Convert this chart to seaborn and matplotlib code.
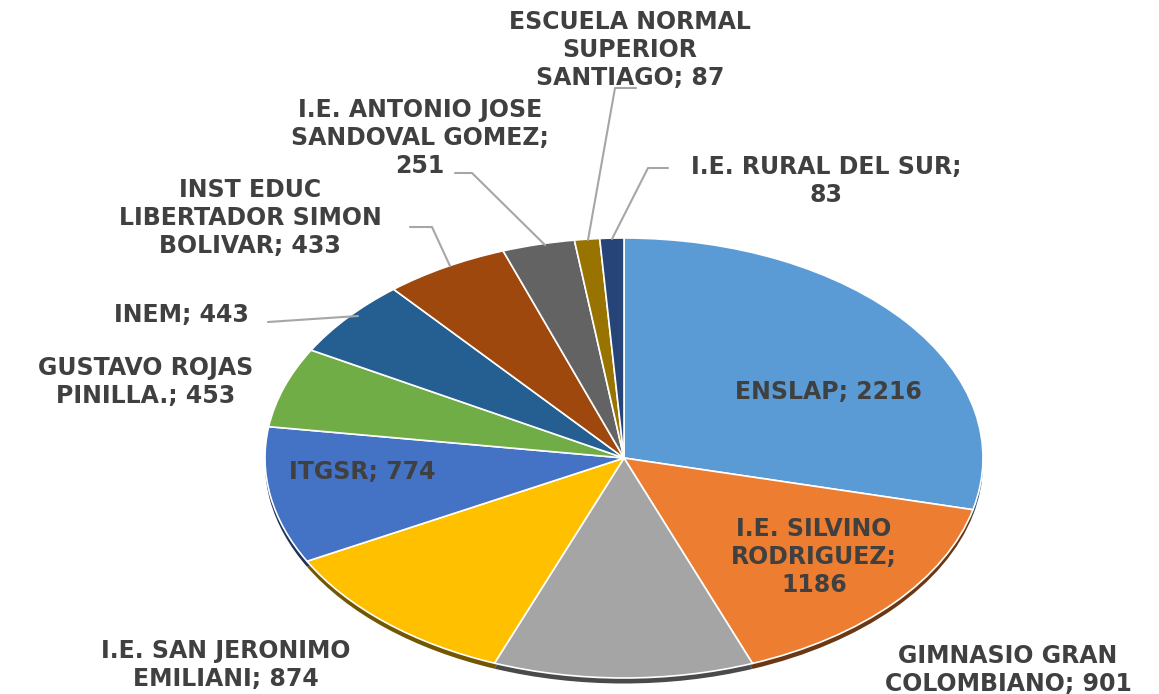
import matplotlib
matplotlib.use("Agg")
import matplotlib.pyplot as plt
import seaborn as sns
import numpy as np

# datos: estudiantes por institucion
names = ["ENSLAP", "I.E. SILVINO\nRODRIGUEZ", "GIMNASIO GRAN\nCOLOMBIANO", "I.E. SAN JERONIMO\nEMILIANI",
         "ITGSR", "GUSTAVO ROJAS\nPINILLA.", "INEM", "INST EDUC\nLIBERTADOR SIMON\nBOLIVAR",
         "I.E. ANTONIO JOSE\nSANDOVAL GOMEZ", "ESCUELA NORMAL\nSUPERIOR\nSANTIAGO", "I.E. RURAL DEL SUR"]
values = [2216, 1186, 901, 874, 774, 453, 443, 433, 251, 87, 83]

colors = ["#5B9BD5", "#ED7D31", "#A5A5A5", "#FFC000", "#4472C4", "#70AD47",
          "#255E91", "#9E480E", "#636363", "#997300", "#264478"]

sns.set_theme(style="white")
plt.rcParams['font.family'] = ['DejaVu Sans']

W, H = 1159, 694
fig = plt.figure(figsize=(W / 100, H / 100), dpi=100)

# pie in its own axes, squashed to an ellipse (3D look)
cx, cy, rx, ry = 624, 458, 359, 220
pax = fig.add_axes([(cx - rx) / W, 1 - (cy + ry + 6) / H, 2 * rx / W, (2 * ry + 6) / H])

dark = [tuple(np.array(matplotlib.colors.to_rgb(c)) * 0.45) for c in colors]
pax.pie(values, colors=dark, startangle=90, counterclock=False, radius=1,
        center=(0, -0.025), wedgeprops=dict(linewidth=0))
pax.pie(values, colors=colors, startangle=90, counterclock=False, radius=1,
        wedgeprops=dict(edgecolor="white", linewidth=1.2))
pax.set_aspect('auto')
pax.set_xlim(-1, 1)
pax.set_ylim(-1 - 6 / ry, 1)
pax.axis('off')

# overlay axes in pixel coords for labels
ax = fig.add_axes([0, 0, 1, 1])
ax.set_xlim(0, W)
ax.set_ylim(H, 0)
ax.axis('off')
ax.patch.set_alpha(0)

seps = ["; ", ";\n", "; ", "; ", "; ", "; ", "; ", "; ", ";\n", "; ", ";\n"]
pos = [(828, 392), (814, 557), (1008, 670), (226, 665), (362, 472), (146, 382),
       (181, 315), (250, 218), (420, 138), (630, 50), (826, 181)]

for name, val, sep, (x, y) in zip(names, values, seps, pos):
    ax.text(x, y, f"{name}{sep}{val}", ha="center", va="center", multialignment="center",
            fontsize=17, fontweight="bold", color="#404040", linespacing=1.2)

# lineas guia
leaders = [
    [(668, 168), (648, 168), (612, 239)],
    [(636, 88), (615, 88), (588, 240)],
    [(455, 173), (472, 173), (545, 245)],
    [(410, 227), (432, 227), (450, 266)],
    [(268, 322), (358, 316)],
]
for pts in leaders:
    xs, ys = zip(*pts)
    ax.plot(xs, ys, color="#A6A6A6", linewidth=1.5)

fig.savefig("out.png", dpi=100)
